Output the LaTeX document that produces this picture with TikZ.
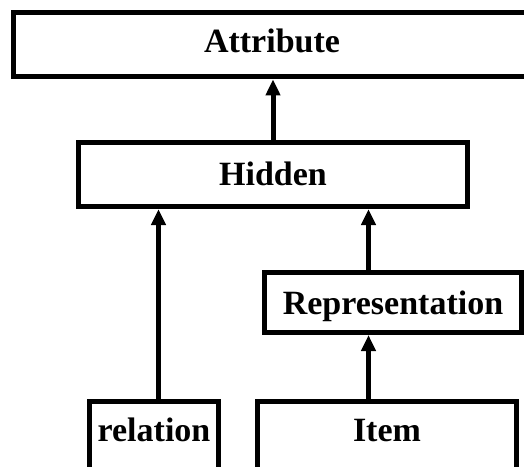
\documentclass[tikz,border=0pt]{standalone}
\usepackage{fontspec}
\setmainfont{Liberation Serif}
\usetikzlibrary{arrows.meta}
\begin{document}
\begin{tikzpicture}[x=1pt,y=-1pt,
  box/.style={draw=black, line width=5pt, fill=white, inner sep=0pt,
    font=\fontsize{34}{40}\selectfont\bfseries, text height=23pt, text depth=0pt},
  arr/.style={draw=black, line width=5pt, -{Triangle[width=14pt,length=16pt]}}]
\useasboundingbox (0,0) rectangle (524,466);

% class boxes
\node[box, minimum width=517pt, minimum height=64.7pt, text depth=7pt]
  (attribute) at (272,44.5) {Attribute};
\node[box, minimum width=389pt, minimum height=64.5pt]
  (hidden) at (273,174.3) {Hidden};
\node[box, minimum width=257pt, minimum height=60pt]
  (repr) at (393,302.5) {Representation};
\node[box, minimum width=129pt, minimum height=70pt, text depth=13pt]
  (relation) at (154,436.5) {relation};
\node[box, minimum width=259pt, minimum height=70pt, text depth=13pt]
  (item) at (387,436.5) {Item};

% vertical positions of the inheritance arrows
\coordinate (xa) at (273,0);
\coordinate (xb) at (158.5,0);
\coordinate (xc) at (368.5,0);

% inheritance arrows
\draw[arr] (hidden.north -| xa) -- (attribute.south -| xa);
\draw[arr] (relation.north -| xb) -- (hidden.south -| xb);
\draw[arr] (repr.north -| xc) -- (hidden.south -| xc);
\draw[arr] (item.north -| xc) -- (repr.south -| xc);
\end{tikzpicture}
\end{document}
